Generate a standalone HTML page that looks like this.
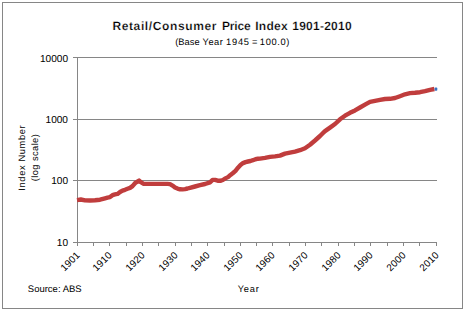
<!DOCTYPE html>
<html><head><meta charset="utf-8"><style>
html,body{margin:0;padding:0;background:#fff;width:466px;height:312px;overflow:hidden}
svg{display:block}
text{font-family:"Liberation Sans",sans-serif;fill:#000;text-rendering:geometricPrecision}
.title{font-size:12px;font-weight:bold;stroke:#fff;stroke-width:0.22px}
.sub{font-size:9.3px}
.yl{font-size:10.1px;letter-spacing:0px}
.xl{font-size:9.9px;letter-spacing:0.12px}
.at{font-size:9.3px}
.src{font-size:9.5px}
.yr{font-size:9.3px}
</style></head><body>
<svg width="466" height="312" viewBox="0 0 466 312">
<rect x="2.5" y="2.5" width="460" height="306" fill="#fff" stroke="#868686" stroke-width="1"/>
<line x1="73" y1="57.5" x2="437" y2="57.5" stroke="#868686" stroke-width="1"/>
<line x1="73" y1="119.5" x2="437" y2="119.5" stroke="#868686" stroke-width="1"/>
<line x1="73" y1="180.5" x2="437" y2="180.5" stroke="#868686" stroke-width="1"/>
<line x1="73" y1="242.5" x2="437" y2="242.5" stroke="#868686" stroke-width="1"/>
<line x1="77.5" y1="57" x2="77.5" y2="246" stroke="#868686" stroke-width="1"/>
<line x1="77.5" y1="242" x2="77.5" y2="246" stroke="#868686" stroke-width="1"/>
<line x1="93.5" y1="242" x2="93.5" y2="246" stroke="#868686" stroke-width="1"/>
<line x1="109.5" y1="242" x2="109.5" y2="246" stroke="#868686" stroke-width="1"/>
<line x1="126.5" y1="242" x2="126.5" y2="246" stroke="#868686" stroke-width="1"/>
<line x1="142.5" y1="242" x2="142.5" y2="246" stroke="#868686" stroke-width="1"/>
<line x1="158.5" y1="242" x2="158.5" y2="246" stroke="#868686" stroke-width="1"/>
<line x1="175.5" y1="242" x2="175.5" y2="246" stroke="#868686" stroke-width="1"/>
<line x1="191.5" y1="242" x2="191.5" y2="246" stroke="#868686" stroke-width="1"/>
<line x1="207.5" y1="242" x2="207.5" y2="246" stroke="#868686" stroke-width="1"/>
<line x1="224.5" y1="242" x2="224.5" y2="246" stroke="#868686" stroke-width="1"/>
<line x1="240.5" y1="242" x2="240.5" y2="246" stroke="#868686" stroke-width="1"/>
<line x1="256.5" y1="242" x2="256.5" y2="246" stroke="#868686" stroke-width="1"/>
<line x1="272.5" y1="242" x2="272.5" y2="246" stroke="#868686" stroke-width="1"/>
<line x1="289.5" y1="242" x2="289.5" y2="246" stroke="#868686" stroke-width="1"/>
<line x1="305.5" y1="242" x2="305.5" y2="246" stroke="#868686" stroke-width="1"/>
<line x1="321.5" y1="242" x2="321.5" y2="246" stroke="#868686" stroke-width="1"/>
<line x1="338.5" y1="242" x2="338.5" y2="246" stroke="#868686" stroke-width="1"/>
<line x1="354.5" y1="242" x2="354.5" y2="246" stroke="#868686" stroke-width="1"/>
<line x1="370.5" y1="242" x2="370.5" y2="246" stroke="#868686" stroke-width="1"/>
<line x1="387.5" y1="242" x2="387.5" y2="246" stroke="#868686" stroke-width="1"/>
<line x1="403.5" y1="242" x2="403.5" y2="246" stroke="#868686" stroke-width="1"/>
<line x1="419.5" y1="242" x2="419.5" y2="246" stroke="#868686" stroke-width="1"/>
<line x1="436.5" y1="242" x2="436.5" y2="246" stroke="#868686" stroke-width="1"/>
<text x="68" y="62" text-anchor="end" class="yl">10000</text>
<text x="68" y="123.2" text-anchor="end" class="yl">1000</text>
<text x="68" y="184.3" text-anchor="end" class="yl">100</text>
<text x="68" y="246" text-anchor="end" class="yl">10</text>
<text x="80.40" y="255.9" text-anchor="end" class="xl" transform="rotate(-45 80.40 255.9)">1901</text>
<text x="112.40" y="255.9" text-anchor="end" class="xl" transform="rotate(-45 112.40 255.9)">1910</text>
<text x="145.40" y="255.9" text-anchor="end" class="xl" transform="rotate(-45 145.40 255.9)">1920</text>
<text x="178.40" y="255.9" text-anchor="end" class="xl" transform="rotate(-45 178.40 255.9)">1930</text>
<text x="210.40" y="255.9" text-anchor="end" class="xl" transform="rotate(-45 210.40 255.9)">1940</text>
<text x="243.40" y="255.9" text-anchor="end" class="xl" transform="rotate(-45 243.40 255.9)">1950</text>
<text x="275.40" y="255.9" text-anchor="end" class="xl" transform="rotate(-45 275.40 255.9)">1960</text>
<text x="308.40" y="255.9" text-anchor="end" class="xl" transform="rotate(-45 308.40 255.9)">1970</text>
<text x="341.40" y="255.9" text-anchor="end" class="xl" transform="rotate(-45 341.40 255.9)">1980</text>
<text x="373.40" y="255.9" text-anchor="end" class="xl" transform="rotate(-45 373.40 255.9)">1990</text>
<text x="406.40" y="255.9" text-anchor="end" class="xl" transform="rotate(-45 406.40 255.9)">2000</text>
<text x="439.40" y="255.9" text-anchor="end" class="xl" transform="rotate(-45 439.40 255.9)">2010</text>
<path d="M77,200.1 L80.8,199.5 L85,200.4 L90,200.5 L95,200.2 L100,199.7 L105,198.3 L107.5,197.6 L110,197.1 L112.5,195.2 L115,194.4 L117.5,193.9 L120,192 L122.5,190.6 L125,189.8 L127.5,188.8 L130,187.9 L132.5,186.1 L135,183.2 L139.1,180.5 L140.8,182.1 L143.7,183.8 L147.5,183.9 L165,183.9 L167.5,183.9 L170,184.1 L172.5,185.6 L175,187.5 L177.5,188.6 L180,189.3 L182.5,189.4 L185,189.1 L187.5,188.5 L190,187.8 L195,186.5 L200,185.2 L205,184 L210,182.3 L212.6,179.9 L215.1,179.9 L217.7,180.7 L220.3,180.8 L222.8,180 L225.4,178.4 L228,177.1 L230.5,174.9 L233,173 L235.5,170.8 L238,167.7 L240.5,165 L243,163.1 L245.5,162.1 L248,161.5 L250.5,161 L253,160.2 L255.5,159.25 L258,158.7 L260,158.6 L265,157.9 L270,156.9 L275,156.35 L280,155.6 L285,153.6 L290,152.6 L295,151.6 L300,150.2 L305,148.2 L310,144.7 L315,140.5 L320,136 L322.5,133.5 L325,131.1 L330,127.6 L335,124 L340,119.3 L345,115.7 L350,112.8 L355,110.4 L360,107.5 L365,104.6 L370,101.8 L375,100.9 L380,99.9 L385,99 L390,98.8 L395,98 L400,96.2 L405,94.3 L410,93.15 L415,92.8 L420,92.2 L425,91.1 L430,89.8 L434.4,89" fill="none" stroke="#C03D3D" stroke-width="4.4" stroke-linejoin="round" stroke-linecap="butt"/>
<rect x="434.6" y="87.6" width="2.7" height="3.1" rx="0.8" fill="#3A72C0"/>
<text x="112.4" y="29.6" class="title" text-anchor="start" style="letter-spacing:0.62px">Retail/Consumer</text>
<text x="222" y="29.6" class="title" text-anchor="start" style="letter-spacing:-0.2px">Price</text>
<text x="255.2" y="29.6" class="title" text-anchor="start" style="letter-spacing:0.3px">Index</text>
<text x="292.3" y="29.6" class="title" text-anchor="start" style="letter-spacing:0.24px">1901-2010</text>
<text x="175.2" y="45.2" class="sub" text-anchor="start" style="letter-spacing:0.05px">(Base</text>
<text x="202.6" y="45.2" class="sub" text-anchor="start" style="letter-spacing:0.5px">Year</text>
<text x="226.1" y="45.2" class="sub" text-anchor="start" style="letter-spacing:0.75px">1945</text>
<text x="252.0" y="45.2" class="sub" text-anchor="start" style="letter-spacing:0px">=</text>
<text x="259.8" y="45.2" class="sub" text-anchor="start" style="letter-spacing:0.66px">100.0)</text>
<text transform="translate(24.8 157.7) rotate(-90)" text-anchor="middle" class="at" style="letter-spacing:0.63px">Index Number</text>
<text transform="translate(37.6 157.5) rotate(-90)" text-anchor="middle" class="at" style="letter-spacing:0.41px">(log scale)</text>
<text x="27.8" y="291.7" class="src" text-anchor="start" style="letter-spacing:0px">Source: ABS</text>
<text x="237.7" y="291.6" class="yr" text-anchor="start" style="letter-spacing:0.75px">Year</text>
</svg>
</body></html>
